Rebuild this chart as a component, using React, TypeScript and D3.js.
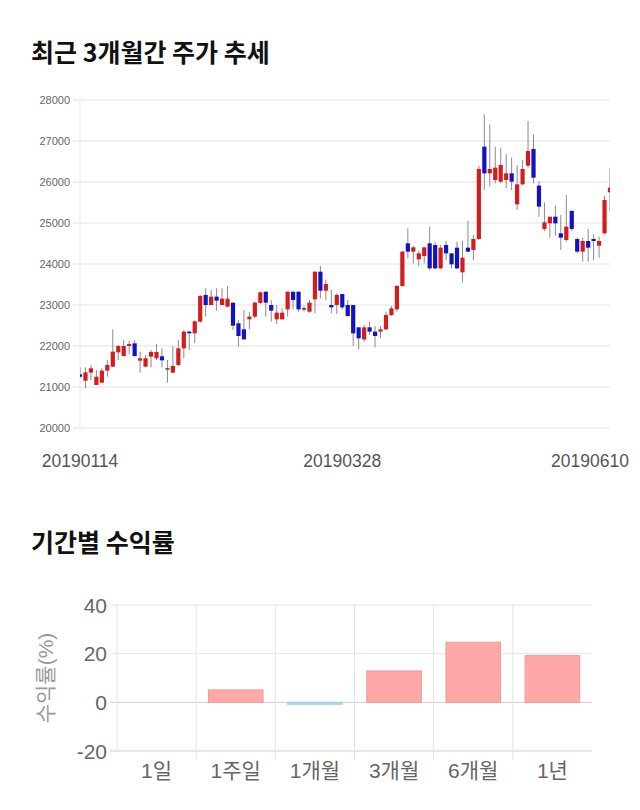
import React, { useEffect, useRef } from "react";
import * as d3 from "d3";

// daily candles, 2019-01-14 .. 2019-06-10
const opens = [
  21310, 21155, 21350, 21050, 21106, 21399, 21496, 21846, 21756, 22000,
  22065, 21643, 21496, 21740, 21700, 21748, 21456, 21350, 21537, 21943,
  22350, 22309, 22594, 23244, 23000, 23204, 23000, 22960, 23057, 22553,
  22407, 22651, 22716, 23050, 23325, 23000, 22650, 22650, 22894, 23325,
  23325, 22920, 22837, 23138, 23813, 23349, 23000, 23000, 23268, 23000,
  23000, 22455, 22162, 22455, 22350, 22350, 22406, 22756, 22894, 23463,
  24504, 24301, 24114, 24195, 24504, 24463, 23894, 24463, 24260, 24398,
  23797, 24398, 24342, 24610, 26862, 26211, 26049, 26008, 26049, 26211,
  25455, 25943, 26398, 26805, 25911, 24854, 24992, 25154, 24748, 24585,
  25293, 24610, 24301, 24561, 24610, 24447, 24748, 25748,
];
const highs = [
  21480, 21480, 21540, 21415, 21456, 21659, 22407, 22025, 22147, 22130,
  22147, 21862, 21781, 21903, 22049, 21943, 21659, 22000, 22147, 22391,
  22380, 22634, 23244, 23407, 23366, 23407, 23407, 23460, 23057, 22634,
  22878, 22838, 23082, 23330, 23325, 23122, 23000, 22919, 23325, 23325,
  23325, 22975, 23122, 23813, 23951, 23626, 23366, 23284, 23268, 23122,
  23000, 22455, 22512, 22593, 22488, 22488, 22837, 22975, 23488, 24325,
  24870, 24439, 24325, 24423, 24910, 24545, 24463, 24561, 24260, 24545,
  24561, 25049, 24707, 26398, 27650, 27406, 26862, 26821, 26675, 26593,
  26415, 26537, 27488, 27163, 26024, 25504, 25123, 25423, 25195, 25683,
  25317, 24642, 24642, 24854, 24724, 24667, 25667, 26350,
];
const lows = [
  21210, 20970, 21170, 21050, 21090, 21252, 21480, 21659, 21740, 21805,
  21740, 21350, 21480, 21480, 21659, 21480, 21106, 21334, 21513, 21700,
  21903, 22065, 22569, 22716, 22990, 22862, 22990, 22940, 22391, 21984,
  22147, 22407, 22675, 23020, 22715, 22593, 22536, 22650, 22715, 22894,
  22837, 22837, 22813, 22797, 23162, 23122, 22797, 22780, 22894, 22715,
  22000, 21919, 22106, 22268, 21967, 22187, 22390, 22732, 22837, 23447,
  24138, 24016, 23951, 24016, 23854, 23878, 23878, 24097, 23894, 23878,
  23553, 24301, 24097, 24585, 25805, 25886, 25967, 25967, 25846, 25805,
  25317, 25911, 26350, 25967, 25154, 24805, 24642, 24691, 24342, 24545,
  24805, 24260, 24057, 24057, 24097, 24154, 24724, 25290,
];
const closes = [
  21250, 21358, 21456, 21252, 21399, 21537, 21862, 22000, 22000, 22049,
  21756, 21700, 21700, 21854, 21854, 21651, 21456, 21513, 21943, 22350,
  22309, 22602, 23220, 23000, 23204, 23106, 23155, 23155, 22496, 22244,
  22163, 22716, 23057, 23310, 23057, 22862, 22813, 22813, 23325, 23122,
  22894, 22920, 23057, 23813, 23349, 23512, 22943, 23244, 22943, 22732,
  22309, 22187, 22455, 22350, 22244, 22406, 22756, 22919, 23463, 24301,
  24301, 24406, 24260, 24406, 23894, 23894, 24398, 24260, 23992, 23894,
  24154, 24301, 24610, 26317, 26211, 26317, 26350, 26415, 26211, 26008,
  25943, 26317, 26756, 26106, 25398, 25016, 25154, 24992, 24642, 24911,
  24854, 24301, 24561, 24398, 24561, 24561, 25561, 25862,
];
const dateLabels = ["20190114", "20190328", "20190610"];
const dateLabelIdx = [0, 48, 97];
const priceTicks = [20000, 21000, 22000, 23000, 24000, 25000, 26000, 27000, 28000];

const periods = ["1일", "1주일", "1개월", "3개월", "6개월", "1년"];
const returns = [0, 5.1, -0.8, 12.9, 24.7, 19.2];
const returnTicks = [-20, 0, 20, 40];

const W = 640;
const H = 810;
const FONT = "'Liberation Sans', Arial, 'Noto Sans CJK KR', sans-serif";

const App = () => {
  const svgRef = useRef<SVGSVGElement | null>(null);

  useEffect(() => {
    const svg = d3.select(svgRef.current).attr("width", W).attr("height", H);
    svg.selectAll("*").remove();

    // titles
    svg.append("text")
      .attr("x", 31).attr("y", 62)
      .attr("font-family", "'Noto Sans CJK KR', sans-serif")
      .attr("font-weight", 700).attr("font-size", 25)
      .attr("fill", "#111")
      .text("최근 3개월간 주가 추세");
    svg.append("text")
      .attr("x", 31).attr("y", 552)
      .attr("font-family", "'Noto Sans CJK KR', sans-serif")
      .attr("font-weight", 700).attr("font-size", 25)
      .attr("fill", "#111")
      .text("기간별 수익률");

    // ---- candlestick chart ----
    const cm = { left: 80, right: 610, top: 100, bottom: 428 };
    const x = d3.scaleLinear().domain([0, opens.length - 1]).range([cm.left, cm.right]);
    const y = d3.scaleLinear().domain([20000, 28000]).range([cm.bottom, cm.top]);

    const grid = svg.append("g");
    grid.selectAll("line")
      .data(priceTicks)
      .enter()
      .append("line")
      .attr("x1", cm.left - 7).attr("x2", cm.right)
      .attr("y1", (d) => y(d)).attr("y2", (d) => y(d))
      .attr("stroke", "#e2e2e2");
    grid.append("line")
      .attr("x1", cm.left).attr("x2", cm.left)
      .attr("y1", cm.top).attr("y2", cm.bottom)
      .attr("stroke", "#e8e8e8");

    svg.append("g")
      .selectAll("text")
      .data(priceTicks)
      .enter()
      .append("text")
      .attr("x", cm.left - 10).attr("y", (d) => y(d) + 4)
      .attr("text-anchor", "end")
      .attr("font-family", FONT).attr("font-size", 11)
      .attr("fill", "#666")
      .text((d) => d);

    svg.append("clipPath").attr("id", "plotclip")
      .append("rect")
      .attr("x", cm.left).attr("y", cm.top - 10)
      .attr("width", cm.right - cm.left).attr("height", cm.bottom - cm.top + 20);

    const candles = opens.map((o, i) => ({ i, o, h: highs[i], l: lows[i], c: closes[i] }));
    const colorOf = (d: any) => (d.c > d.o ? "#d41c1c" : d.c < d.o ? "#1212c4" : "#222");
    const cg = svg.append("g").attr("clip-path", "url(#plotclip)");
    cg.selectAll(".wick")
      .data(candles)
      .enter()
      .append("line")
      .attr("x1", (d) => x(d.i)).attr("x2", (d) => x(d.i))
      .attr("y1", (d) => y(d.h)).attr("y2", (d) => y(d.l))
      .attr("stroke", "#8a8a8a").attr("stroke-width", 1);
    const bw = 4.2;
    cg.selectAll(".body")
      .data(candles)
      .enter()
      .append("rect")
      .attr("x", (d) => x(d.i) - bw / 2)
      .attr("y", (d) => y(Math.max(d.o, d.c)))
      .attr("width", bw)
      .attr("height", (d) => Math.max(1.2, Math.abs(y(d.o) - y(d.c))))
      .attr("fill", colorOf);

    svg.append("g")
      .selectAll("text")
      .data(dateLabels)
      .enter()
      .append("text")
      .attr("x", (d, k) => Math.min(x(dateLabelIdx[k]), W - 10 - 40))
      .attr("y", 467)
      .attr("text-anchor", "middle")
      .attr("font-family", FONT).attr("font-size", 17.5)
      .attr("fill", "#555")
      .text((d) => d);

    // ---- returns bar chart ----
    const bm = { left: 117, right: 592, top: 605, bottom: 751 };
    const bx = d3.scaleBand().domain(periods).range([bm.left, bm.right]);
    const by = d3.scaleLinear().domain([-20, 40]).range([bm.bottom, bm.top]);

    const bgrid = svg.append("g");
    bgrid.selectAll("line.h")
      .data(returnTicks)
      .enter()
      .append("line")
      .attr("x1", bm.left - 7).attr("x2", bm.right)
      .attr("y1", (d) => by(d)).attr("y2", (d) => by(d))
      .attr("stroke", (d) => (d === 0 || d === -20 ? "#cfcfcf" : "#e4e4e4"));
    bgrid.selectAll("line.v")
      .data(periods)
      .enter()
      .append("line")
      .attr("x1", (d) => bx(d)!).attr("x2", (d) => bx(d)!)
      .attr("y1", bm.top)
      .attr("y2", (d, k) => (k === 0 ? bm.bottom : bm.bottom + 9))
      .attr("stroke", "#e4e4e4");

    const barW = bx.bandwidth() * 0.69;
    svg.append("g")
      .selectAll("rect")
      .data(periods)
      .enter()
      .append("rect")
      .attr("x", (d) => bx(d)! + (bx.bandwidth() - barW) / 2)
      .attr("y", (d, k) => by(Math.max(0, returns[k])))
      .attr("width", barW)
      .attr("height", (d, k) => Math.abs(by(returns[k]) - by(0)))
      .attr("fill", (d, k) => (returns[k] >= 0 ? "#ffa8a8" : "#a8dce8"))
      .attr("stroke", (d, k) => (returns[k] >= 0 ? "#f29a9a" : "#9bd2e0"))
      .attr("stroke-width", 1);

    svg.append("g")
      .selectAll("text")
      .data(returnTicks)
      .enter()
      .append("text")
      .attr("x", bm.left - 10).attr("y", (d) => by(d) + 7.5)
      .attr("text-anchor", "end")
      .attr("font-family", FONT).attr("font-size", 21)
      .attr("fill", "#666")
      .text((d) => d);

    svg.append("g")
      .selectAll("text")
      .data(periods)
      .enter()
      .append("text")
      .attr("x", (d) => bx(d)! + bx.bandwidth() / 2)
      .attr("y", 778)
      .attr("text-anchor", "middle")
      .attr("font-family", FONT).attr("font-size", 21)
      .attr("fill", "#666")
      .text((d) => d);

    svg.append("text")
      .attr("transform", `translate(53,${(bm.top + bm.bottom) / 2}) rotate(-90)`)
      .attr("text-anchor", "middle")
      .attr("font-family", FONT).attr("font-size", 21)
      .attr("fill", "#999")
      .text("수익률(%)");
  }, []);

  return <svg ref={svgRef} style={{ position: "absolute", left: 0, top: 0 }}></svg>;
};

export default App;
